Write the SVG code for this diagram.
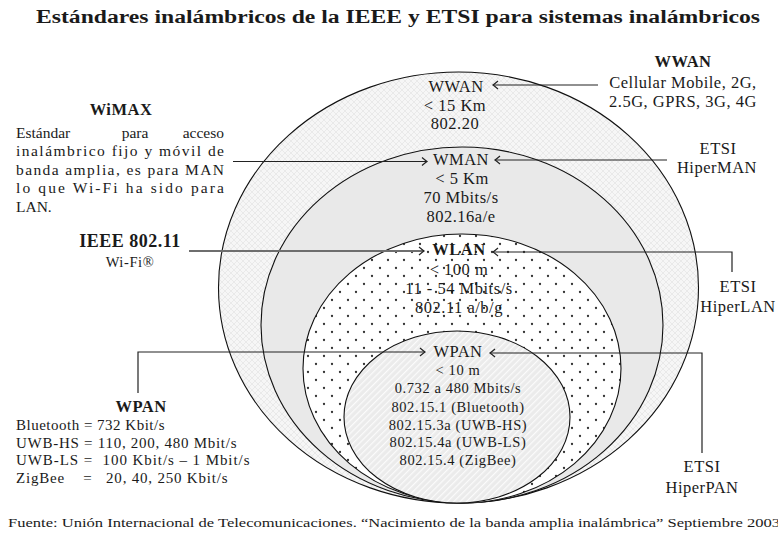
<svg xmlns="http://www.w3.org/2000/svg" width="778" height="535" viewBox="0 0 778 535" font-family="'Liberation Serif', 'DejaVu Serif', 'Times New Roman', serif">
<defs>
<style>
text{font-family:'Liberation Serif','DejaVu Serif','Times New Roman',serif;fill:#1a1a1a}
.lbl{font-size:16.5px;letter-spacing:0.5px;text-anchor:middle}
.sm{font-size:14.5px;letter-spacing:0.6px;text-anchor:middle}
.b{font-weight:bold}
.lst{font-size:15px;letter-spacing:0.5px}
.par{font-size:15.5px}
.ell{stroke:#111;stroke-width:1.1}
.con{fill:none;stroke:#222;stroke-width:1.2}
.gray{fill:none;stroke:#6e6e6e;stroke-width:1.8}
</style>
<pattern id="xh" width="6" height="6" patternUnits="userSpaceOnUse">
<rect width="6" height="6" fill="#f6f6f6"/>
<path d="M0,0L6,6M6,0L0,6" stroke="#e6e6e6" stroke-width="0.8"/>
</pattern>
<pattern id="dots" width="16" height="16" patternUnits="userSpaceOnUse">
<rect width="16" height="16" fill="#fff"/>
<circle cx="4" cy="4" r="1.15" fill="#333"/>
<circle cx="12" cy="12" r="1.15" fill="#333"/>
</pattern>
<pattern id="stripes" width="4.5" height="4.5" patternUnits="userSpaceOnUse" patternTransform="rotate(45)">
<rect width="4.5" height="4.5" fill="#ebebeb"/>
<line x1="0.6" y1="0" x2="0.6" y2="4.5" stroke="#fbfbfb" stroke-width="1.2"/>
</pattern>
<marker id="ah" viewBox="-6 -5 8 10" markerWidth="8" markerHeight="10" refX="0" refY="0" orient="auto" markerUnits="userSpaceOnUse">
<path d="M-5,-4Q-1.5,-1 0,0Q-1.5,1 -5,4" fill="none" stroke="#222" stroke-width="1.2"/>
</marker>
</defs>
<rect width="778" height="535" fill="#fff"/>

<text x="398" y="23" class="b" font-size="18.5" text-anchor="middle" textLength="724" lengthAdjust="spacingAndGlyphs">Estándares inalámbricos de la IEEE y ETSI  para sistemas inalámbricos</text>

<g id="wwan">
<ellipse class="ell" cx="458.5" cy="287.5" rx="240" ry="215.5" fill="url(#xh)"/>
<text class="lbl" x="456" y="92">WWAN</text>
<text class="lbl" x="455" y="111">&lt; 15 Km</text>
<text class="lbl" x="455" y="129">802.20</text>
</g>
<g id="wman">
<ellipse class="ell" cx="462" cy="325" rx="201" ry="178" fill="#e9e9e9"/>
<text class="lbl" x="461" y="165">WMAN</text>
<text class="lbl" x="462" y="184">&lt; 5 Km</text>
<text class="lbl" x="461" y="203">70 Mbits/s</text>
<text class="lbl" x="461" y="222">802.16a/e</text>
</g>
<g id="wlan">
<ellipse class="ell" cx="462" cy="368.5" rx="159" ry="134.5" fill="url(#dots)"/>
<text class="lbl b" x="459" y="255">WLAN</text>
<text class="lbl" x="459" y="275">&lt; 100 m</text>
<text class="lbl" x="459" y="294">11 - 54 Mbits/s</text>
<text class="lbl" x="459" y="313">802.11 a/b/g</text>
</g>
<g id="wpan">
<ellipse class="ell" cx="457" cy="417" rx="113" ry="86" fill="url(#stripes)"/>
<text class="lbl" x="458" y="357">WPAN</text>
<text class="sm" x="458" y="375">&lt; 10 m</text>
<text class="sm" x="458" y="393">0.732 a 480 Mbits/s</text>
<text class="sm" x="458" y="412">802.15.1 (Bluetooth)</text>
<text class="sm" x="458" y="430">802.15.3a (UWB-HS)</text>
<text class="sm" x="458" y="447">802.15.4a (UWB-LS)</text>
<text class="sm" x="458" y="465">802.15.4 (ZigBee)</text>
</g>

<g id="wwan-info">
<text class="lbl b" x="683" y="67">WWAN</text>
<text class="lbl" x="683" y="88">Cellular Mobile, 2G,</text>
<text class="lbl" x="683" y="107">2.5G, GPRS, 3G, 4G</text>
</g>
<g id="hiperman">
<text class="lbl" x="718" y="154">ETSI</text>
<text class="lbl" x="717" y="173">HiperMAN</text>
</g>
<g id="hiperlan">
<text class="lbl" x="738" y="292">ETSI</text>
<text class="lbl" x="738" y="312">HiperLAN</text>
</g>
<g id="hiperpan">
<text class="lbl" x="702" y="472">ETSI</text>
<text class="lbl" x="702" y="493">HiperPAN</text>
</g>
<g id="wimax">
<text class="lbl b" x="121" y="115">WiMAX</text>
<text class="par" x="16" y="137.5">Estándar</text>
<text class="par" x="135" y="137.5" text-anchor="middle">para</text>
<text class="par" x="224" y="137.5" text-anchor="end">acceso</text>
<text class="par" x="16" y="156" textLength="208" lengthAdjust="spacing">inalámbrico fijo y móvil de</text>
<text class="par" x="16" y="174.5" textLength="208" lengthAdjust="spacing">banda amplia, es para MAN</text>
<text class="par" x="16" y="193" textLength="208" lengthAdjust="spacing">lo que Wi-Fi ha sido para</text>
<text class="par" x="16" y="211.5">LAN.</text>
</g>
<g id="ieee80211">
<text class="b" x="130" y="247" font-size="18" letter-spacing="0.5" text-anchor="middle">IEEE 802.11</text>
<text class="sm" x="130" y="267">Wi-Fi®</text>
</g>
<g id="wpan-info">
<text class="lbl b" x="141" y="412">WPAN</text>
<text class="lst" x="16" y="430">Bluetooth = 732 Kbit/s</text>
<text class="lst" x="16" y="448" textLength="221" lengthAdjust="spacing">UWB-HS = 110, 200, 480 Mbit/s</text>
<text class="lst" x="16" y="465" textLength="234" lengthAdjust="spacing" xml:space="preserve">UWB-LS =  100 Kbit/s – 1 Mbit/s</text>
<text class="lst" x="16" y="483" textLength="212" lengthAdjust="spacing" xml:space="preserve">ZigBee    =   20, 40, 250 Kbit/s</text>
</g>

<g id="connectors">
<line class="con" x1="598" y1="85" x2="493" y2="85" marker-end="url(#ah)"/>
<line class="con" x1="667" y1="160" x2="495" y2="160" marker-end="url(#ah)"/>
<line class="con" x1="233" y1="161.5" x2="427" y2="161.5" marker-end="url(#ah)"/>
<line class="gray" x1="189" y1="251" x2="424" y2="251" marker-end="url(#ah)"/>
<path class="con" d="M732,272V252H493" marker-end="url(#ah)"/>
<path class="con" d="M702,453V353H490" marker-end="url(#ah)"/>
<path class="con" d="M138,393V352H425" marker-end="url(#ah)"/>
</g>

<text x="8" y="527" font-size="13" textLength="772" lengthAdjust="spacingAndGlyphs">Fuente: Unión Internacional de Telecomunicaciones. “Nacimiento de la banda amplia inalámbrica” Septiembre 2003</text>
</svg>
